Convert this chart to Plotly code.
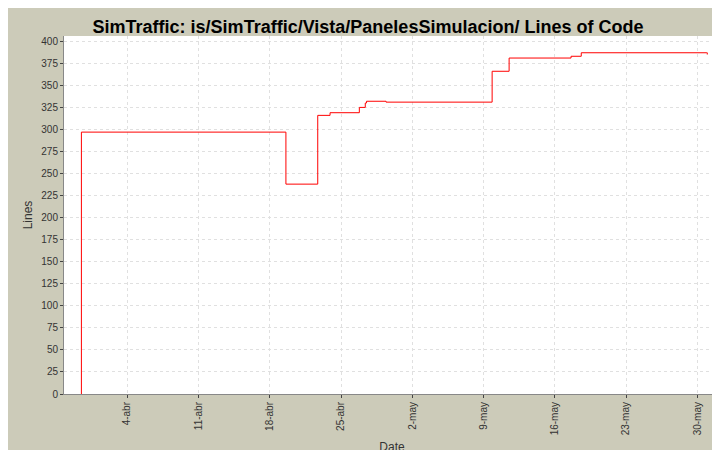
import plotly.graph_objects as go

# LOC history (dates)
dates = ["2008-03-30 12:00", "2008-03-30 12:01", "2008-04-19 14:00", "2008-04-22 17:00",
         "2008-04-23 22:00", "2008-04-26 19:00", "2008-04-27 09:00", "2008-04-27 12:00",
         "2008-04-29 10:00", "2008-05-09 20:00", "2008-05-11 12:00", "2008-05-17 14:00",
         "2008-05-18 14:00", "2008-05-30 22:00", "2008-05-30 23:00"]
lines = [0, 297, 238, 316, 319, 325, 330, 332, 331, 366, 381, 383, 387, 387, 385]

tick_vals = ["2008-04-04", "2008-04-11", "2008-04-18", "2008-04-25", "2008-05-02",
             "2008-05-09", "2008-05-16", "2008-05-23", "2008-05-30"]
tick_text = ["4-abr", "11-abr", "18-abr", "25-abr", "2-may", "9-may", "16-may", "23-may", "30-may"]

fig = go.Figure()
fig.add_trace(go.Scatter(x=dates, y=lines, mode="lines", line_shape="hv",
                         line=dict(color="red", width=1), showlegend=False))

grid = dict(showgrid=True, gridcolor="#e0e0e0", griddash="3px,3px", gridwidth=1, automargin=False)
fig.update_xaxes(range=["2008-03-28 19:00", "2008-06-01 05:00"], tickvals=tick_vals, ticktext=tick_text,
                 tickangle=-90, title=dict(text="Date", font=dict(size=12), standoff=8), ticks="outside",
                 ticklen=3, showline=True, linecolor="#888888", zeroline=False, **grid)
fig.update_yaxes(range=[0, 406], dtick=25, tickformat="d", title=dict(text="Lines", font=dict(size=12), standoff=6),
                 ticks="outside", ticklen=3, showline=True, linecolor="#888888", zeroline=False, **grid)
fig.update_layout(
    width=720, height=450,
    margin=dict(l=56, r=8, t=28, b=64),
    paper_bgcolor="#cccbb9", plot_bgcolor="white",
    font=dict(family="Liberation Sans, Arial, sans-serif", size=10, color="#333333"),
    title=dict(text="<b>SimTraffic: is/SimTraffic/Vista/PanelesSimulacion/ Lines of Code</b>",
               x=0.5, y=0.972, xanchor="center", font=dict(size=18, color="black")),
)
fig.write_html("out.html")
